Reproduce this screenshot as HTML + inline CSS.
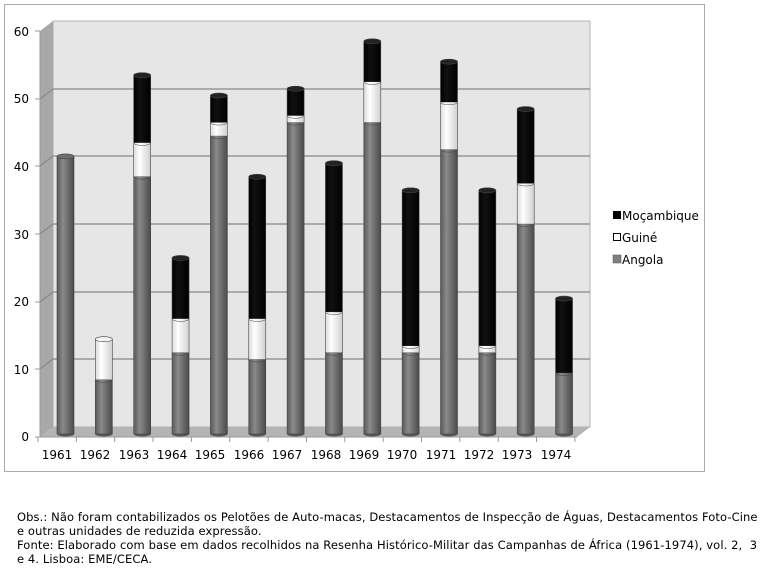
<!DOCTYPE html>
<html><head><meta charset="utf-8"><style>
body{margin:0;background:#fff;width:768px;height:571px;overflow:hidden;font-family:"DejaVu Sans","Liberation Sans",sans-serif}
.note{position:absolute;left:17px;top:510px;font-size:11.5px;line-height:14px;color:#000;white-space:nowrap;font-family:"DejaVu Sans",sans-serif;letter-spacing:0.1px}
</style></head><body>
<svg id="s" width="768" height="500" style="position:absolute;left:0;top:0" font-family="DejaVu Sans, Liberation Sans, sans-serif" font-size="12">
<defs>
<linearGradient id="gA" x1="0" x2="1"><stop offset="0" stop-color="#5a5a5a"/><stop offset="0.35" stop-color="#8a8a8a"/><stop offset="1" stop-color="#4a4a4a"/></linearGradient>
<linearGradient id="gG" x1="0" x2="1"><stop offset="0" stop-color="#dcdcdc"/><stop offset="0.35" stop-color="#fff"/><stop offset="1" stop-color="#d0d0d0"/></linearGradient>
<linearGradient id="gM" x1="0" x2="1"><stop offset="0" stop-color="#000"/><stop offset="0.35" stop-color="#111"/><stop offset="1" stop-color="#000"/></linearGradient>
</defs>
<rect x="4.5" y="4.5" width="700" height="467" fill="#fff" stroke="#aaa"/>
<rect x="53" y="21" width="537" height="406" fill="#e6e6e6" stroke="#999" stroke-width="0.7"/>
<polygon points="40,31 53,21 53,427 40,437" fill="#a8a8a8"/>
<polygon points="40,437 53,427 590,427 577,437" fill="#b4b4b4"/>
<g stroke="#888" stroke-width="1.2">
<line x1="53" y1="89" x2="590" y2="89"/><line x1="53" y1="156" x2="590" y2="156"/><line x1="53" y1="224" x2="590" y2="224"/><line x1="53" y1="292" x2="590" y2="292"/><line x1="53" y1="359" x2="590" y2="359"/>
<line x1="40" y1="99" x2="53" y2="89"/><line x1="40" y1="166" x2="53" y2="156"/><line x1="40" y1="234" x2="53" y2="224"/><line x1="40" y1="302" x2="53" y2="292"/><line x1="40" y1="369" x2="53" y2="359"/>
</g>
<g stroke="#999"><line x1="40" y1="31" x2="40" y2="437"/><line x1="40" y1="437" x2="577" y2="437"/>
<line x1="35" y1="31" x2="40" y2="31"/><line x1="35" y1="99" x2="40" y2="99"/><line x1="35" y1="166" x2="40" y2="166"/><line x1="35" y1="234" x2="40" y2="234"/><line x1="35" y1="302" x2="40" y2="302"/><line x1="35" y1="369" x2="40" y2="369"/><line x1="35" y1="437" x2="40" y2="437"/>
</g>
<g id="xt" stroke="#999"></g>
<g id="bars"></g>
<g text-anchor="end" fill="#000">
<text x="29" y="36">60</text><text x="29" y="103">50</text><text x="29" y="171">40</text><text x="29" y="239">30</text><text x="29" y="306">20</text><text x="29" y="374">10</text><text x="29" y="441">0</text>
</g>
<g text-anchor="middle" fill="#000">
<text x="57" y="459">1961</text><text x="95" y="459">1962</text><text x="134" y="459">1963</text><text x="172" y="459">1964</text><text x="210" y="459">1965</text><text x="249" y="459">1966</text><text x="287" y="459">1967</text><text x="326" y="459">1968</text><text x="364" y="459">1969</text><text x="402" y="459">1970</text><text x="441" y="459">1971</text><text x="479" y="459">1972</text><text x="517" y="459">1973</text><text x="556" y="459">1974</text>
</g>
<rect x="613" y="211" width="8" height="8" fill="#000"/><text x="622" y="220">Moçambique</text>
<rect x="613.5" y="233.5" width="7" height="7" fill="#fff" stroke="#000"/><text x="622" y="242">Guiné</text>
<rect x="613" y="255" width="8" height="8" fill="#808080" stroke="#555" stroke-width="0.5"/><text x="622" y="264">Angola</text>
</svg>
<script>
var d=[[41,0,0],[8,6,0],[38,5,10],[12,5,9],[44,2,4],[11,6,21],[46,1,4],[12,6,22],[46,6,6],[12,1,23],[42,7,6],[12,1,23],[31,6,11],[9,0,11]];
var g=document.getElementById('bars'),xt=document.getElementById('xt'),k=6.77,b=434,w=17,h='';
var fills=['url(#gA)','url(#gG)','url(#gM)'],tops=['#6e6e6e','#f4f4f4','#222'];
for(var i=0;i<14;i++){var cx=65.5+i*38.35,x0=cx-w/2,c=0,last=0;
 h+='<ellipse cx="'+cx+'" cy="'+b+'" rx="8.5" ry="2.5" fill="#555"/>';
 for(var j=0;j<3;j++){if(!d[i][j])continue;var y1=b-c*k,y2=b-(c+d[i][j])*k;
  h+='<rect x="'+x0+'" y="'+y2+'" width="'+w+'" height="'+(y1-y2)+'" fill="'+fills[j]+'" stroke="#444" stroke-width="0.6"/>';
  if(c>0)h+='<path d="M'+x0+' '+y1+' A8.5 2.5 0 0 0 '+(x0+w)+' '+y1+'" fill="'+fills[last]+'" stroke="#444" stroke-width="0.5"/>';
  c+=d[i][j];last=j;}
 h+='<ellipse cx="'+cx+'" cy="'+(b-c*k)+'" rx="8.5" ry="2.5" fill="'+tops[last]+'" stroke="#444" stroke-width="0.6"/>';}
g.innerHTML=h;
var t='';for(var i=0;i<=14;i++){var x=38+i*38.35;t+='<line x1="'+x+'" y1="437" x2="'+x+'" y2="442"/>';}xt.innerHTML=t;
</script>
<div class="note">Obs.: Não foram contabilizados os Pelotões de Auto-macas, Destacamentos de Inspecção de Águas, Destacamentos Foto-Cine<br>e outras unidades de reduzida expressão.<br>Fonte: Elaborado com base em dados recolhidos na Resenha Histórico-Militar das Campanhas de África (1961-1974), vol. 2, &nbsp;3<br>e 4. Lisboa: EME/CECA.</div>
</body></html>
